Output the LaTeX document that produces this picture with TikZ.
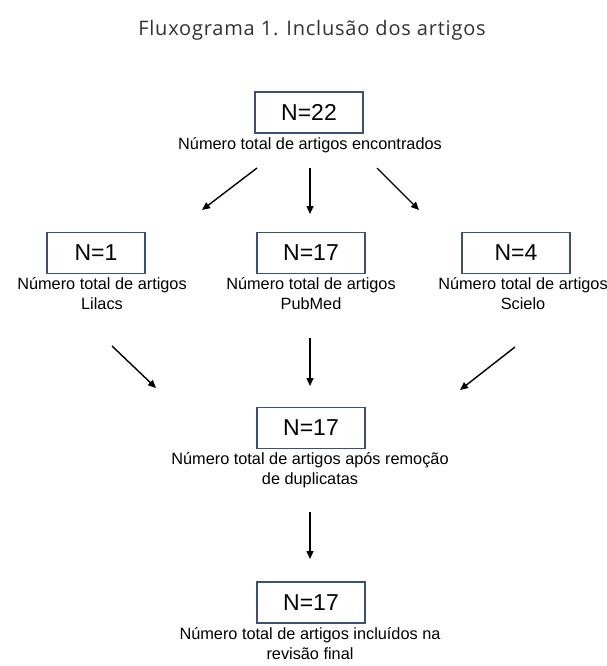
\documentclass[tikz,border=0pt]{standalone}
\usepackage{fontspec}
\setmainfont{Liberation Sans}
\newfontfamily\titlefont[LetterSpace=4]{Open Sans}
\usetikzlibrary{arrows.meta}
\definecolor{boxline}{RGB}{62,80,115}
\definecolor{titlegray}{RGB}{50,50,50}
\tikzset{
    countbox/.style={rectangle, draw=boxline, line width=1.1pt, minimum width=108pt,
      minimum height=41pt, inner sep=0pt, font=\fontsize{23}{26}\selectfont},
    caption/.style={align=center, inner sep=0pt, anchor=base,
      font=\fontsize{16.3}{20}\selectfont},
    flow/.style={-{Triangle[length=8pt,width=7pt]}, line width=1.4pt}
}

\begin{document}
\begin{tikzpicture}[x=1pt, y=-1pt]
  \useasboundingbox (0,0) rectangle (606,666);

  \node (title) at (312,36) [anchor=base, inner sep=0pt, text=titlegray,
    font=\titlefont\fontsize{20}{22}\selectfont] {Fluxograma 1. Inclusão dos artigos};

  \node[countbox] (total) at (309,112.5) {N=22};
  \node[caption] (totaltxt) at (310,149) {Número total de artigos encontrados};

  % base of a two line caption is its last line
  \node[countbox, minimum width=98pt] (lilacs) at (96,253) {N=1};
  \node[caption] (lilacstxt) at (102,309) {Número total de artigos\\Lilacs};
  \node[countbox] (pubmed) at (311,253) {N=17};
  \node[caption] (pubmedtxt) at (311,309) {Número total de artigos\\PubMed};
  \node[countbox] (scielo) at (516,253) {N=4};
  \node[caption] (scielotxt) at (523,309) {Número total de artigos\\Scielo};

  \node[countbox] (dedup) at (311,428) {N=17};
  \node[caption] (deduptxt) at (310,484) {Número total de artigos após remoção\\de duplicatas};

  \node[countbox] (final) at (311,602.5) {N=17};
  \node[caption] (finaltxt) at (310,659) {Número total de artigos incluídos na\\revisão final};

  % free ends of the arrows
  \coordinate (a1) at (257,168); \coordinate (b1) at (202,210);
  \coordinate (a2) at (310,168); \coordinate (b2) at (310,214);
  \coordinate (a3) at (377,168); \coordinate (b3) at (419,210);

  \coordinate (c1) at (112,346); \coordinate (d1) at (156,388);
  \coordinate (c2) at (310,338); \coordinate (d2) at (310,386);
  \coordinate (c3) at (515,347); \coordinate (d3) at (460,390);

  \coordinate (e1) at (310,512); \coordinate (f1) at (310,559);

  \draw[flow] (a1) -- (b1); \draw[flow] (a2) -- (b2); \draw[flow] (a3) -- (b3);
  \draw[flow] (c1) -- (d1); \draw[flow] (c2) -- (d2); \draw[flow] (c3) -- (d3);
  \draw[flow] (e1) -- (f1);
\end{tikzpicture}
\end{document}
